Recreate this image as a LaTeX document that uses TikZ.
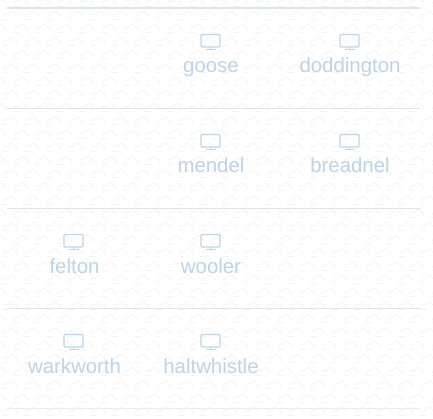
\documentclass[tikz,border=0pt]{standalone}
\usepackage{fontspec}
\setmainfont{Liberation Sans}
\definecolor{labelblue}{HTML}{BDD3E7}
\definecolor{iconblue}{HTML}{BFD6EA}
\definecolor{ruleblue}{HTML}{DFE5ED}
\definecolor{rulegrey}{HTML}{EAECEE}
\definecolor{cloudgrey}{HTML}{F4F4F4}
\tikzset{
  x=1pt,y=-1pt,
  rowrule/.style={line width=1pt},
  caption/.style={text=labelblue,font=\fontsize{20.4}{24}\selectfont,inner sep=0pt,anchor=base},
  icon/.pic={
    \draw[iconblue,line width=1.1pt,rounded corners=1pt] (-9.5,-7) rectangle (9.5,5.5);
    \draw[iconblue,line width=1.1pt] (0,5.5) -- (0,8) (-5,8) -- (5,8);
  },
  cloud/.pic={
    \draw[cloudgrey,line width=0.8pt,line cap=round]
      (-7,2) .. controls (-8.5,-1) and (-5,-2.5) .. (-3,-1)
      .. controls (-2,-5) and (3,-5) .. (3,-1)
      .. controls (5.5,-2) and (7,0.5) .. (5.5,2);
    \draw[cloudgrey,line width=0.8pt,line cap=round] (-9,4) -- (-3,4);
  }
}
\begin{document}
\begin{tikzpicture}
\useasboundingbox (0,0) rectangle (433,419);
\fill[white] (0,0) rectangle (433,419);
\begin{scope}
\clip (0,0) rectangle (433,419);
\foreach \r in {0,...,32}{
  \foreach \c in {-1,...,21}{
    \pgfmathsetmacro{\px}{\c*22+mod(\r,2)*11}
    \pgfmathsetmacro{\py}{\r*13.2+2}
    \pic at (\px,\py) {cloud};
  }
}
\end{scope}
\coordinate (r0a) at (7,8); \coordinate (r0b) at (420,8);
\coordinate (r1a) at (7,108.5); \coordinate (r1b) at (420,108.5);
\coordinate (r2a) at (7,208.5); \coordinate (r2b) at (420,208.5);
\coordinate (r3a) at (7,308.5); \coordinate (r3b) at (420,308.5);
\coordinate (r4a) at (7,408.5); \coordinate (r4b) at (420,408.5);
\draw[rowrule,ruleblue,line width=1.6pt] (r0a) -- (r0b);
\draw[rowrule,ruleblue] (r1a) -- (r1b);
\draw[rowrule,ruleblue] (r2a) -- (r2b);
\draw[rowrule,ruleblue] (r3a) -- (r3b);
\draw[rowrule,rulegrey] (r4a) -- (r4b);
\pic at (210.5,41.5) {icon};
\pic at (349.5,41.5) {icon};
\pic at (210.5,141.5) {icon};
\pic at (349.5,141.5) {icon};
\pic at (73.5,241.5) {icon};
\pic at (210.5,241.5) {icon};
\pic at (73.5,341.5) {icon};
\pic at (210.5,341.5) {icon};
\node[caption] (goose) at (211,73) {goose};
\node[caption] (doddington) at (350,73) {doddington};
\node[caption] (mendel) at (211,173) {mendel};
\node[caption] (breadnel) at (350,173) {breadnel};
\node[caption] (felton) at (74.5,273) {felton};
\node[caption] (wooler) at (211,273) {wooler};
\node[caption] (warkworth) at (74.5,373) {warkworth};
\node[caption] (haltwhistle) at (211,373) {haltwhistle};
\end{tikzpicture}
\end{document}
